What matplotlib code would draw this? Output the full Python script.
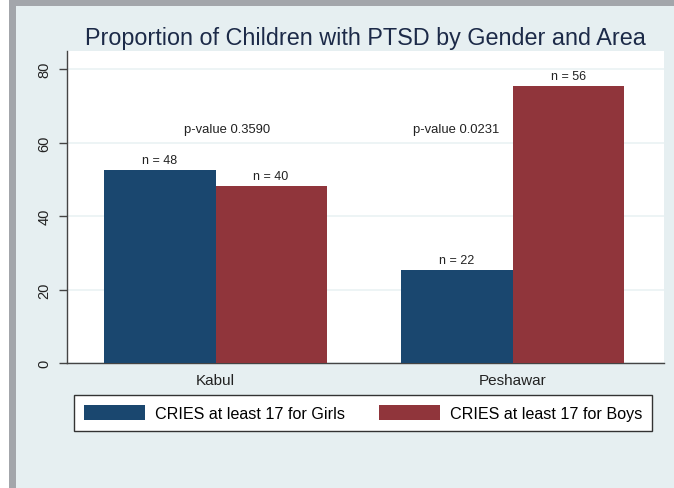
import numpy as np
import matplotlib.pyplot as plt
from matplotlib.patches import Rectangle

plt.rcParams['font.family'] = ['Liberation Sans', 'DejaVu Sans']

# data
areas = ['Kabul', 'Peshawar']
girls = [52.5, 25.3]
boys = [48.2, 75.4]
n_girls = [48, 22]
n_boys = [40, 56]
p_values = ['p-value 0.3590', 'p-value 0.0231']
p_x = [0.04, 0.81]
p_y = [63.7, 63.7]
series_labels = ['CRIES at least 17 for Girls', 'CRIES at least 17 for Boys']

navy = '#1a476f'
maroon = '#90353b'
bg = '#e6eff1'

fig = plt.figure(figsize=(6.74, 4.89), dpi=100)
fig.patch.set_facecolor(bg)

# screenshot frame
fig.patches.append(Rectangle((0, 0), 9 / 674, 1, transform=fig.transFigure,
                             facecolor='white', edgecolor='none', zorder=0))
fig.patches.append(Rectangle((9 / 674, 0), 7 / 674, 1, transform=fig.transFigure,
                             facecolor='#a3a6ab', edgecolor='none', zorder=0))
fig.patches.append(Rectangle((9 / 674, 1 - 7 / 489), 1, 7 / 489, transform=fig.transFigure,
                             facecolor='#a3a6ab', edgecolor='none', zorder=0))

ax = fig.add_axes([67 / 674, 1 - 364 / 489, 597 / 674, 312 / 489])
ax.set_facecolor('white')

x = np.arange(len(areas))
w = 0.374
b1 = ax.bar(x - w / 2, girls, w, color=navy, label=series_labels[0], zorder=3)
b2 = ax.bar(x + w / 2, boys, w, color=maroon, label=series_labels[1], zorder=3)

for i in range(len(areas)):
    ax.annotate('n = %d' % n_girls[i], (x[i] - w / 2, girls[i]), xytext=(0, 3),
                textcoords='offset points', ha='center', va='bottom', fontsize=9, color='#222222')
    ax.annotate('n = %d' % n_boys[i], (x[i] + w / 2, boys[i]), xytext=(0, 3),
                textcoords='offset points', ha='center', va='bottom', fontsize=9, color='#222222')
    ax.text(p_x[i], p_y[i], p_values[i], ha='center', va='center', fontsize=9.4, color='#222222')

ax.set_xlim(-0.5, 1.51)
ax.set_ylim(0, 84.9)
ax.set_xticks(x)
ax.set_xticklabels(areas, fontsize=11, color='#222222')
ax.tick_params(axis='x', length=0, pad=7)
ax.set_yticks([0, 20, 40, 60, 80])
ax.set_yticklabels(['0', '20', '40', '60', '80'], rotation=90, va='center', fontsize=10.5, color='#222222')
ax.tick_params(axis='y', length=6, width=1, color='#444444', pad=5)
ax.grid(axis='y', color='#eaf2f3', linewidth=1.2, zorder=0)

for s in ['top', 'right']:
    ax.spines[s].set_visible(False)
for s in ['left', 'bottom']:
    ax.spines[s].set_color('#444444')
    ax.spines[s].set_linewidth(1)

fig.text(365 / 674, 1 - 38 / 489, 'Proportion of Children with PTSD by Gender and Area',
         ha='center', va='center', fontsize=16.8, color='#1c2a48')

leg = fig.legend(handles=[b1, b2], labels=series_labels, ncol=2, loc='center',
                 bbox_to_anchor=(363 / 674, 1 - 414 / 489), fontsize=11.6,
                 handlelength=3.8, handleheight=1.1, handletextpad=0.6,
                 columnspacing=2.1, borderpad=0.6, borderaxespad=0, fancybox=False, framealpha=1)
leg.get_frame().set_edgecolor('#333333')
leg.get_frame().set_linewidth(1)

fig.savefig('out.png', dpi=100, facecolor=fig.get_facecolor())
